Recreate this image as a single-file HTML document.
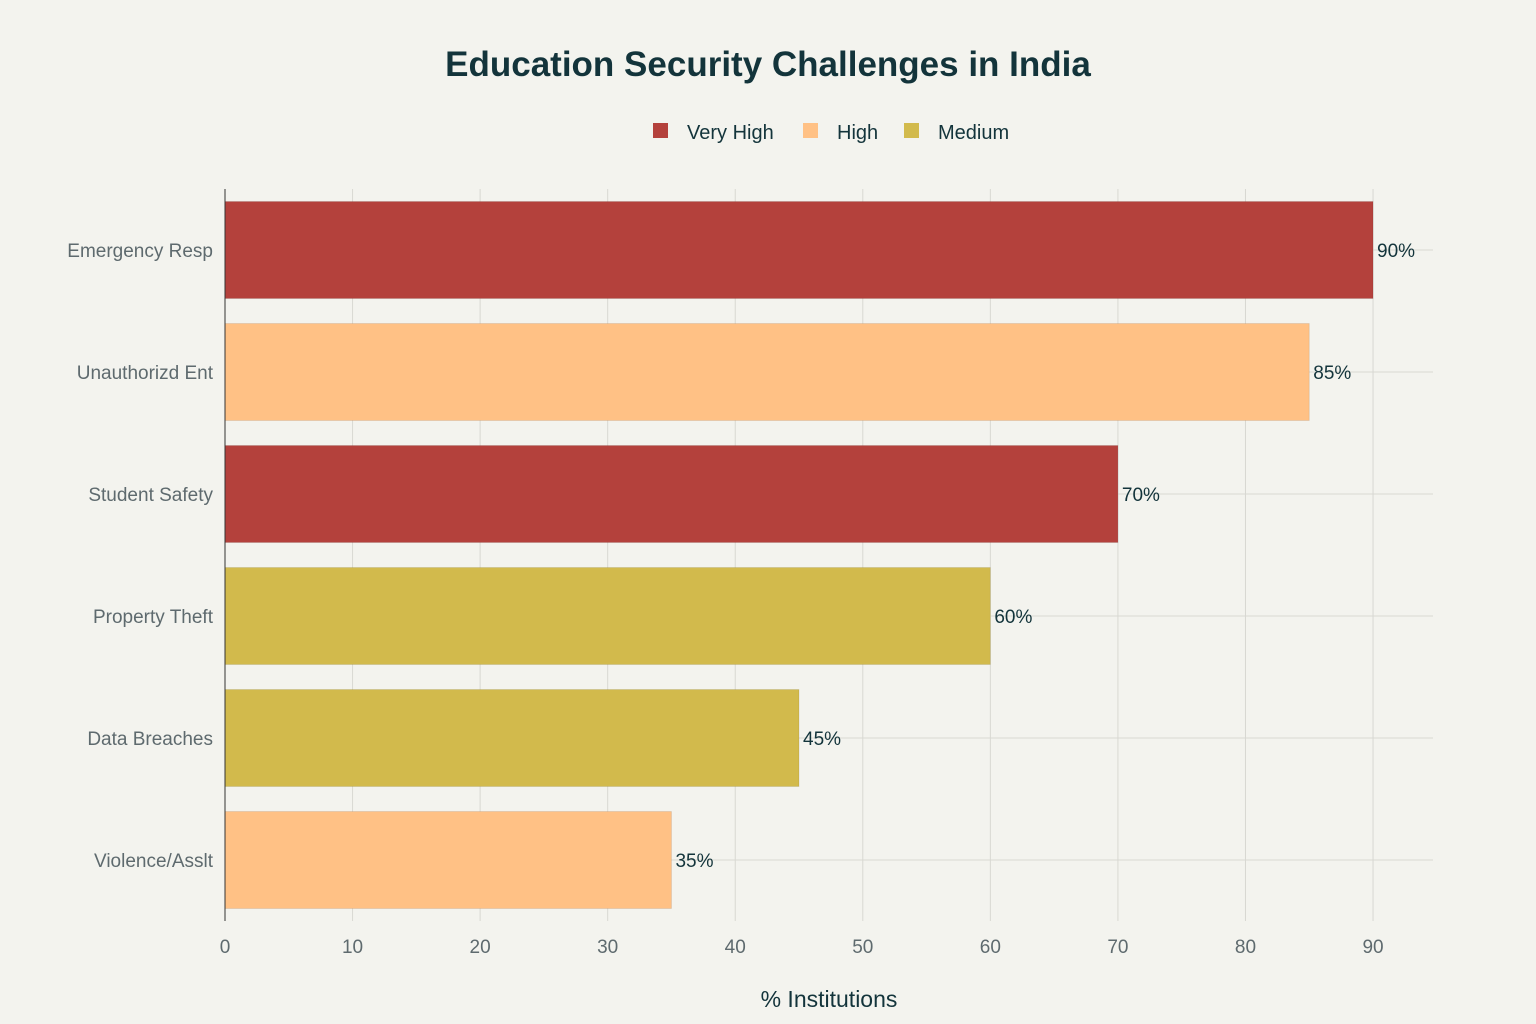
<!DOCTYPE html>
<html><head><meta charset="utf-8"><style>
body{margin:0;background:#F3F3EE;font-family:"Liberation Sans",sans-serif;}
svg{display:block}
</style></head><body>
<svg id="chart" width="1536" height="1024" xmlns="http://www.w3.org/2000/svg">
<rect width="1536" height="1024" fill="#F3F3EE"/>
<text x="768" y="76" text-anchor="middle" font-size="35" font-weight="bold" fill="#13343B">Education Security Challenges in India</text>
<g id="legend"></g>
<g id="grid"></g>
<g id="bars"></g>
<g id="labels"></g>
<text x="829" y="1007" text-anchor="middle" font-size="23" fill="#13343B">% Institutions</text>
</svg>
<script>
const categories=["Emergency Resp","Unauthorizd Ent","Student Safety","Property Theft","Data Breaches","Violence/Asslt"];
const values=[90,85,70,60,45,35];
const levels=["Very High","High","Very High","Medium","Medium","High"];
const xTicks=[0,10,20,30,40,50,60,70,80,90];
const legendNames=["Very High","High","Medium"];
const colors={"Very High":"#B4413C","High":"#FFC185","Medium":"#D2BA4C"};
const NS="http://www.w3.org/2000/svg";
const x0=225,pxPer=12.756,plotTop=189,plotBottom=921,plotRight=1433,rowH=122;
const xs=v=>x0+v*pxPer;
const yc=i=>250+i*rowH;
function mk(t,a,p){const e=document.createElementNS(NS,t);for(const k in a)e.setAttribute(k,a[k]);p.appendChild(e);return e;}
const grid=document.getElementById('grid'),bars=document.getElementById('bars'),labels=document.getElementById('labels'),legend=document.getElementById('legend');
xTicks.forEach(t=>{
 const l=mk('line',{x1:xs(t),x2:xs(t),y1:plotTop,y2:plotBottom,stroke:'#D8D8D2','stroke-width':1},grid);
 
 
 const tx=mk('text',{x:xs(t),y:953,'text-anchor':'middle','font-size':19,fill:'#5E6A6E'},labels);
 tx.textContent=t;
 
 
});
categories.forEach((c,i)=>{
 const g=mk('line',{x1:x0,x2:plotRight,y1:yc(i),y2:yc(i),stroke:'#D8D8D2','stroke-width':1},grid);
 
 
 const b=mk('rect',{x:x0,y:yc(i)-48.5,width:xs(values[i])-x0,height:97,fill:colors[levels[i]],stroke:'rgba(0,0,0,0.08)','stroke-width':1},bars);
 
 
 const v=mk('text',{x:xs(values[i])+4,y:yc(i)+7,'font-size':19,fill:'#13343B'},labels);
 v.textContent=values[i]+'%';
 
 
 const y=mk('text',{x:213,y:yc(i)+7,'text-anchor':'end','font-size':19,fill:'#5E6A6E'},labels);
 y.textContent=c;
 
 
});
const ax=mk('line',{x1:x0,x2:x0,y1:plotTop,y2:plotBottom,stroke:'#333','stroke-width':1},labels);


const lx=[653,803,904];
legendNames.forEach((n,i)=>{
 const r=mk('rect',{x:lx[i],y:123,width:15,height:15,fill:colors[n]},legend);
 
 
 const t=mk('text',{x:lx[i]+34,y:139,'font-size':20,fill:'#13343B'},legend);
 t.textContent=n;
 
 
});
</script>
</body></html>
